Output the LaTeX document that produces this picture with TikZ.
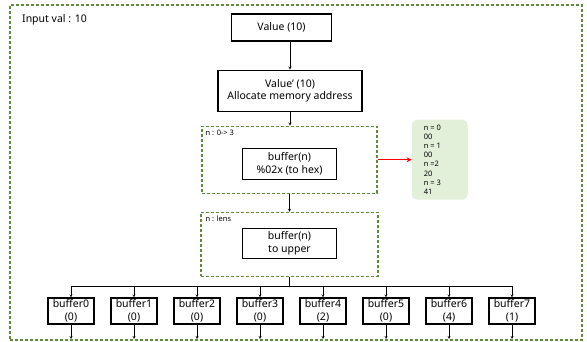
\documentclass[tikz,border=0pt]{standalone}
\usepackage{fontspec}
\setmainfont{Noto Sans}
\usetikzlibrary{positioning, arrows.meta}
\definecolor{loopgreen}{HTML}{5E8C3A}
\definecolor{notegreen}{HTML}{E2F0D9}
\tikzstyle{process} = [rectangle, draw=black, line width=1.1pt, text centered, align=center, inner sep=1pt, font=\fontsize{10.5}{12.5}\selectfont]
\tikzstyle{loopbox} = [rectangle, draw=loopgreen, line width=1.2pt, dash pattern=on 3pt off 2pt, inner sep=0pt]
\tikzstyle{note} = [rectangle, rounded corners=6pt, fill=notegreen, align=left, inner sep=0pt, font=\fontsize{7.5}{9.2}\selectfont]
\tikzstyle{small} = [inner sep=0pt, font=\fontsize{7.5}{9}\selectfont]
\tikzstyle{arrow} = [->, >=stealth]
\tikzstyle{redarrow} = [line width=1.3pt, red, -{Stealth[length=5pt, width=5pt]}]

\begin{document}
\begin{tikzpicture}[x=1pt, y=1pt]
    \useasboundingbox (0,0) rectangle (587,-342);

        % Frame
        \node (frame) [loopbox, minimum width=572pt, minimum height=335pt] at (296,-172.5) {};
        \node (input) [anchor=west, inner sep=0pt, font=\fontsize{10.5}{12}\selectfont] at (22,-20) {Input val : 10};

        % Nodes
        \node (value) [process, minimum width=100pt, minimum height=27pt] at (281.5,-27.5) {Value (10)};
        \node (valuep) [process, minimum width=144pt, minimum height=41pt, below=28pt of value, xshift=8.5pt] {Value' (10)\\Allocate memory address};
        \node (loop1) [loopbox, minimum width=175pt, minimum height=67pt, below=14pt of valuep, xshift=-0.5pt] {};
        \node (hex) [process, minimum width=94pt, minimum height=31pt] at ([yshift=-4pt]loop1.center) {buffer(n)\\\%02x (to hex)};
        \node (lbl1) [small, anchor=north west] at ([xshift=4pt, yshift=-4pt]loop1.north west) {n : 0-> 3};
        \node (result) [note, minimum width=56pt, minimum height=80pt, right=34pt of loop1] {};
        \node (restext) [note, fill=none, anchor=north west] at ([xshift=12pt, yshift=-5pt]result.north west) {n = 0\\00\\n = 1\\00\\n =2\\20\\n = 3\\41};
        \node (loop2) [loopbox, minimum width=177pt, minimum height=64pt, below=18pt of loop1] {};
        \node (upper) [process, minimum width=94pt, minimum height=30pt] at ([yshift=1pt]loop2.center) {buffer(n)\\to upper};
        \node (lbl2) [small, anchor=north west] at ([xshift=5pt, yshift=-4pt]loop2.north west) {n : lens};
        \coordinate (bus) at (289.5,-286);

        \foreach \i/\v in {0/0,1/0,2/0,3/0,4/2,5/0,6/4,7/1} {
            \node (buf\i) [process, minimum width=46pt, minimum height=26pt, inner sep=0pt, font=\fontsize{10.5}{12.5}\selectfont] at (71+63*\i,-311) {buffer\i\\(\v)};
            \coordinate (out\i) at (71+63*\i,-339);
        }

        % Arrows
        \draw [arrow] (value.south -| valuep.north) -- (valuep.north);
        \draw [arrow] (valuep.south) -- (valuep.south |- loop1.north);
        \draw [arrow] (loop1.south) -- (loop2.north);
        \draw [redarrow] (loop1.east) -- (loop1.east -| result.west);
        \draw (loop2.south) -- (bus);
        \draw (buf0.north |- bus) -- (buf7.north |- bus);
        \foreach \i in {0,...,7} {
            \draw [arrow] (buf\i.north |- bus) -- (buf\i.north);
            \draw [arrow] (buf\i.south) -- (out\i);
        }

    \end{tikzpicture}
\end{document}
